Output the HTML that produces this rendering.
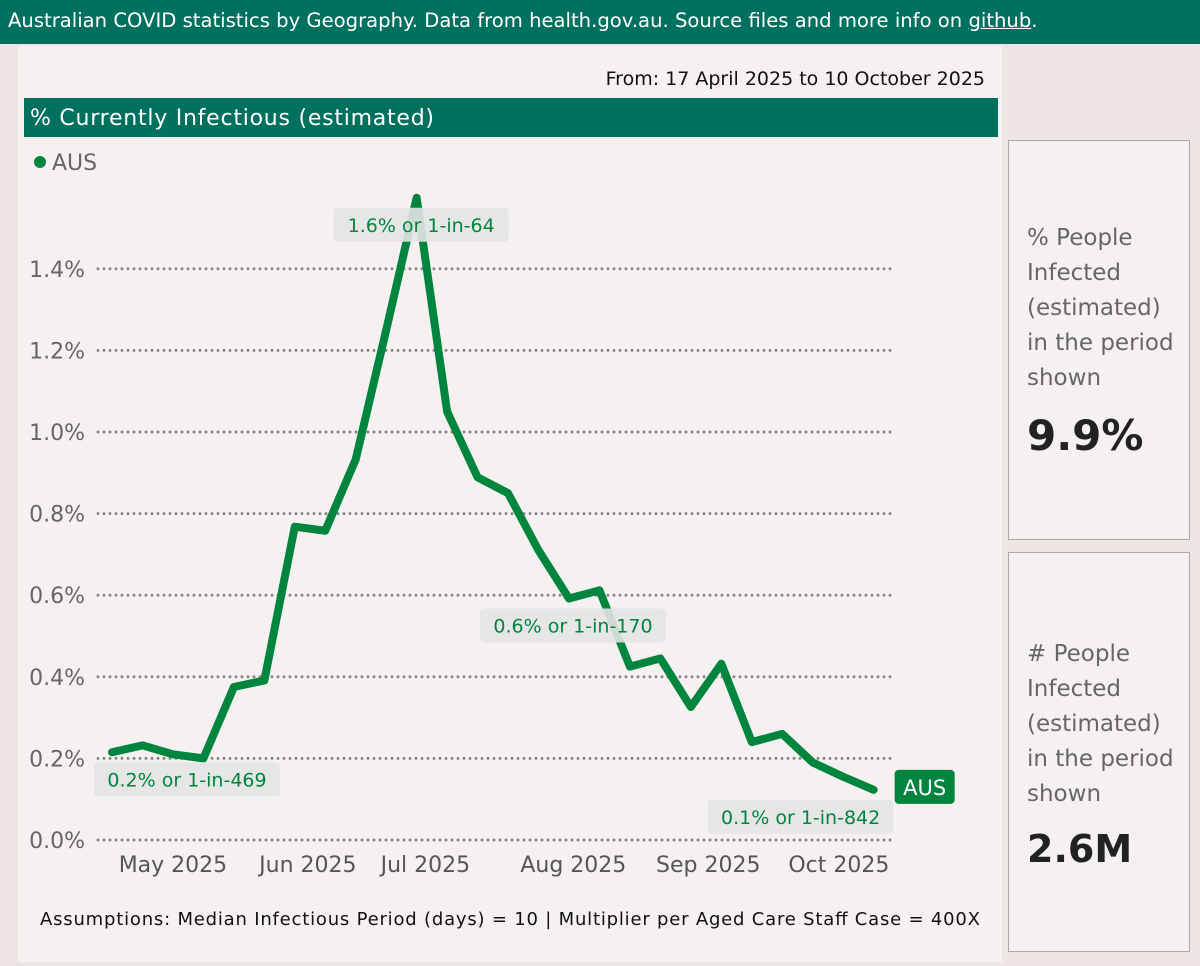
<!DOCTYPE html>
<html><head><meta charset="utf-8"><style>
body{margin:0;width:1200px;height:966px;background:#ede4e4;font-family:"DejaVu Sans","Liberation Sans",sans-serif;position:relative;overflow:hidden}
.hdr{position:absolute;left:0;top:0;width:1200px;height:44px;background:#00705f;color:#fff;font-size:19.6px;line-height:42px;padding-left:8px;box-sizing:border-box;white-space:nowrap}
.hdr u{color:#fff}
.panel{position:absolute;left:18px;top:46px;width:984px;height:916px;background:#f5f1f0}
.card{position:absolute;left:1008px;width:182px;background:#f5f1f0;border:1px solid #aaa;box-sizing:border-box}
.card .t{position:absolute;left:18px;color:#666;font-size:23px;line-height:35px}
.card .v{position:absolute;left:18px;color:#222;font-weight:bold}
</style></head><body>
<div class="hdr">Australian COVID statistics by Geography. Data from health.gov.au. Source files and more info on <u>github</u>.</div>
<div class="panel"></div>
<div class="card" style="top:140px;height:400px">
<div class="t" style="top:80px">% People<br>Infected<br>(estimated)<br>in the period<br>shown</div>
<div class="v" style="top:270px;font-size:42px">9.9%</div></div>
<div class="card" style="top:552px;height:400px">
<div class="t" style="top:84px"># People<br>Infected<br>(estimated)<br>in the period<br>shown</div>
<div class="v" style="top:274px;font-size:38px">2.6M</div></div>
<svg id="c" width="1200" height="966" style="position:absolute;left:0;top:0" font-family="DejaVu Sans, Liberation Sans, sans-serif">
<text x="985" y="85" text-anchor="end" font-size="19" fill="#111">From: 17 April 2025 to 10 October 2025</text>
<rect x="24" y="98" width="974" height="39" fill="#00705f"/>
<text x="30" y="125" font-size="22" fill="#fff" textLength="404">% Currently Infectious (estimated)</text>
<circle cx="40" cy="162" r="6" fill="#00853f"/>
<text x="52" y="170" font-size="22" fill="#666">AUS</text>
<text x="40" y="925" font-size="18" fill="#111" textLength="940">Assumptions: Median Infectious Period (days) = 10 | Multiplier per Aged Care Staff Case = 400X</text>
<g id="g"></g></svg>
<script>
const weekIndex=[0,1,2,3,4,5,6,7,8,9,10,11,12,13,14,15,16,17,18,19,20,21,22,23,24,25];
const values=[0.215,0.232,0.21,0.20,0.375,0.391,0.768,0.758,0.933,1.25,1.574,1.05,0.889,0.85,0.71,0.592,0.612,0.425,0.445,0.326,0.432,0.24,0.26,0.19,0.155,0.123];
const yTicks=[0,0.2,0.4,0.6,0.8,1.0,1.2,1.4];
const monthLabels=["May 2025","Jun 2025","Jul 2025","Aug 2025","Sep 2025","Oct 2025"];
const monthDays=[14,45,72,106,137,167];
const annotations=[{i:10,t:"1.6% or 1-in-64"},{i:0,t:"0.2% or 1-in-469"},{i:15,t:"0.6% or 1-in-170"},{i:25,t:"0.1% or 1-in-842"}];
const X=d=>112+d*(766/176), XW=i=>X(i*7), Y=v=>840-v*408;
const g=document.getElementById('g'), NS="http://www.w3.org/2000/svg";
function mk(tag,a,txt){const e=document.createElementNS(NS,tag);for(const k in a)e.setAttribute(k,a[k]);if(txt!=null)e.textContent=txt;g.appendChild(e);return e;}
yTicks.forEach(v=>{
 const l=mk('line',{x1:98,x2:895,y1:Y(v),y2:Y(v),stroke:'#888','stroke-width':3,'stroke-dasharray':'0 6','stroke-linecap':'round'});
 
 
 const t=mk('text',{x:85,y:Y(v)+8,'text-anchor':'end','font-size':22,fill:'#666'},v.toFixed(1)+'%');
 
 
});
monthLabels.forEach((m,k)=>{
 const t=mk('text',{x:X(monthDays[k]),y:872,'text-anchor':'middle','font-size':22,fill:'#555'},m);
 
 
});
const p=mk('polyline',{points:values.map((v,i)=>XW(weekIndex[i])+','+Y(v)).join(' '),fill:'none',stroke:'#00853f','stroke-width':8,'stroke-linejoin':'round','stroke-linecap':'round'});


const offs={10:-83,0:-18,15:-89,25:-166};
annotations.forEach(a=>{
 const x=XW(weekIndex[a.i]),y=Y(values[a.i]);
 const w=a.t.length*11+10;
 const bx=x+offs[a.i],by=y+10;
 const r=mk('rect',{x:bx,y:by,width:w,height:34,rx:4,fill:'#e4e4e4','fill-opacity':0.9});
 
 
 const t=mk('text',{x:bx+w/2,y:by+24,'text-anchor':'middle','font-size':19,fill:'#00853f'},a.t);
 
 
});
const lx=XW(weekIndex[25])+21,ly=Y(values[25])-20;
const r=mk('rect',{x:lx,y:ly,width:60,height:34,rx:4,fill:'#00853f'});


const t=mk('text',{x:lx+30,y:ly+25,'text-anchor':'middle','font-size':21,fill:'#fff'},'AUS');


</script>
</body></html>
